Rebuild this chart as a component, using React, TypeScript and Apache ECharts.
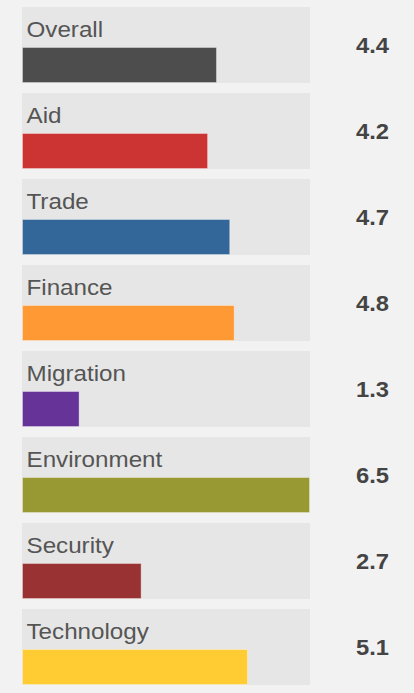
import React, { useEffect, useRef } from "react";
import * as echarts from "echarts";

const categories = ["Overall", "Aid", "Trade", "Finance", "Migration", "Environment", "Security", "Technology"];
const values = [4.4, 4.2, 4.7, 4.8, 1.3, 6.5, 2.7, 5.1];
const colors = ["#4d4d4d", "#cc3333", "#336699", "#ff9933", "#663399", "#999933", "#993333", "#ffcc33"];
const axisMax = 6.5;

export default function App() {
  const ref = useRef<HTMLDivElement>(null);
  useEffect(() => {
    const chart = echarts.init(ref.current!, undefined, { renderer: "svg" });
    const data = values.map((v, i) => [v, i]);
    chart.setOption({
      animation: false,
      backgroundColor: "#f2f2f2",
      grid: { left: 22, right: 104, top: 2, height: 688 },
      xAxis: { type: "value", min: 0, max: axisMax, show: false },
      yAxis: { type: "category", data: categories, inverse: true, show: false },
      series: [
        {
          type: "custom",
          data,
          encode: { x: 0, y: 1 },
          renderItem: (params: any, api: any) => {
            const idx = api.value(1);
            const v = api.value(0);
            const c = api.coord([0, idx]);
            const cEnd = api.coord([v, idx]);
            const cMax = api.coord([axisMax, idx]);
            const band = api.size([0, 1])[1];
            const panelH = band * (76 / 86);
            const top = c[1] - panelH / 2;
            const barH = panelH * (36 / 76);
            return {
              type: "group",
              children: [
                {
                  type: "rect",
                  shape: { x: c[0], y: top, width: cMax[0] - c[0], height: panelH },
                  style: { fill: "#e6e6e6" },
                },
                {
                  type: "rect",
                  shape: { x: c[0] + 0.5, y: top + panelH - barH + 0.5, width: cEnd[0] - c[0] - 1, height: barH - 1 },
                  style: { fill: colors[idx], stroke: "rgba(255,255,255,0.35)", lineWidth: 1 },
                },
                {
                  type: "text",
                  x: c[0] + 4.5,
                  y: top + 22,
                  scaleX: 1.1,
                  style: {
                    x: 0,
                    y: 0,
                    text: categories[idx],
                    fill: "#555555",
                    font: "22px 'Liberation Sans', Arial, sans-serif",
                    verticalAlign: "middle",
                    align: "left",
                  },
                },
                {
                  type: "text",
                  x: cMax[0] + 79,
                  y: c[1],
                  scaleX: 1.08,
                  style: {
                    x: 0,
                    y: 0,
                    text: v.toFixed(1),
                    fill: "#444444",
                    font: "bold 22px 'Liberation Sans', Arial, sans-serif",
                    verticalAlign: "middle",
                    align: "right",
                  },
                },
              ],
            };
          },
        },
      ],
    });
    return () => chart.dispose();
  }, []);
  return (
    <div
      ref={ref}
      style={{ position: "absolute", left: 0, top: 0, width: 414, height: 693 }}
    />
  );
}
